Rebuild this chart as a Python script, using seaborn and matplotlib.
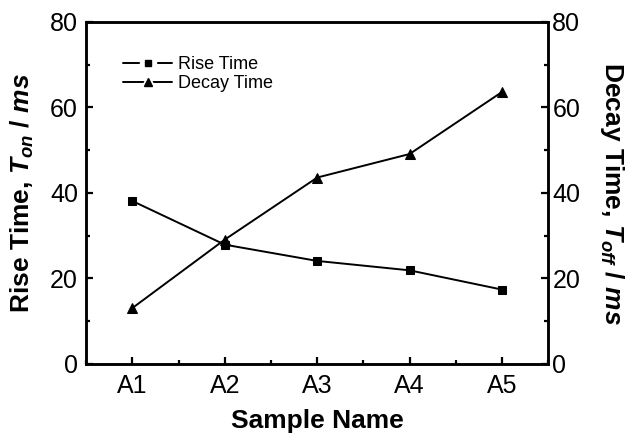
import matplotlib
matplotlib.use('Agg')
import matplotlib.pyplot as plt
import seaborn as sns
import pandas as pd
from matplotlib.ticker import MultipleLocator, AutoMinorLocator
from matplotlib.lines import Line2D
from matplotlib.legend_handler import HandlerTuple

samples = ['A1', 'A2', 'A3', 'A4', 'A5']
rise_time = [38.1, 27.9, 24.1, 21.9, 17.4]
decay_time = [13.1, 29.1, 43.6, 49.1, 63.6]

sns.set_style('ticks')
plt.rcParams['font.family'] = ['Liberation Sans', 'DejaVu Sans']
plt.rcParams['mathtext.fontset'] = 'custom'
plt.rcParams['mathtext.it'] = 'Liberation Sans:bold:italic'
plt.rcParams['mathtext.rm'] = 'Liberation Sans:bold'
plt.rcParams.update({'text.color': 'black', 'axes.labelcolor': 'black',
                     'xtick.color': 'black', 'ytick.color': 'black',
                     'axes.edgecolor': 'black'})

df = pd.DataFrame({'sample': samples, 'rise': rise_time, 'decay': decay_time})

fig, ax = plt.subplots(figsize=(6.3, 4.38), dpi=100)
ax2 = ax.twinx()

sns.lineplot(data=df, x='sample', y='rise', ax=ax, color='black', marker='s',
             markersize=5.5, lw=1.4, markeredgecolor='black', sort=False)
sns.lineplot(data=df, x='sample', y='decay', ax=ax2, color='black', marker='^',
             markersize=7, lw=1.4, markeredgecolor='black', sort=False)

for a in (ax, ax2):
    a.set_ylim(0, 80)
    a.yaxis.set_major_locator(MultipleLocator(20))
    a.yaxis.set_minor_locator(MultipleLocator(10))
    a.tick_params(axis='y', direction='in', length=5, width=1.6, labelsize=18)
    a.tick_params(axis='y', which='minor', direction='in', length=3, width=1.6)
    for s in a.spines.values():
        s.set_linewidth(1.8)
        s.set_visible(True)

ax.tick_params(axis='y', pad=6)
ax2.tick_params(axis='y', pad=3)
ax.set_xlim(-0.5, 4.5)
ax.xaxis.set_minor_locator(AutoMinorLocator(2))
ax.tick_params(axis='x', direction='in', length=5, width=1.6, labelsize=18, pad=7)
ax.tick_params(axis='x', which='minor', direction='in', length=3, width=1.6)
ax.tick_params(axis='y', right=False)
ax2.tick_params(axis='y', left=False)

ax.set_xlabel('Sample Name', fontsize=19, fontweight='bold', labelpad=8)
ax.set_ylabel(r'Rise Time, $T_{on}$ / $ms$', fontsize=19, fontweight='bold', labelpad=10)
ax2.set_ylabel(r'Decay Time, $T_{off}$ / $ms$', fontsize=19, fontweight='bold',
               rotation=270, labelpad=33)

line = Line2D([], [], color='black', lw=1.4)
gap_s = Line2D([], [], ls='none', marker='s', markersize=11, color='white')
gap_t = Line2D([], [], ls='none', marker='^', markersize=12, color='white')
mk_s = Line2D([], [], ls='none', marker='s', markersize=5, color='black')
mk_t = Line2D([], [], ls='none', marker='^', markersize=6, color='black')
ax.legend([(line, gap_s, mk_s), (line, gap_t, mk_t)], ['Rise Time', 'Decay Time'],
          handler_map={tuple: HandlerTuple(ndivide=1)},
          loc='upper left', bbox_to_anchor=(0.08, 0.90), frameon=False,
          fontsize=13, handlelength=2.7, handletextpad=0.35, labelspacing=0.1,
          borderpad=0, borderaxespad=0)

fig.subplots_adjust(left=0.137, right=0.87, top=0.95, bottom=0.169)
fig.savefig('out.png', dpi=100)
